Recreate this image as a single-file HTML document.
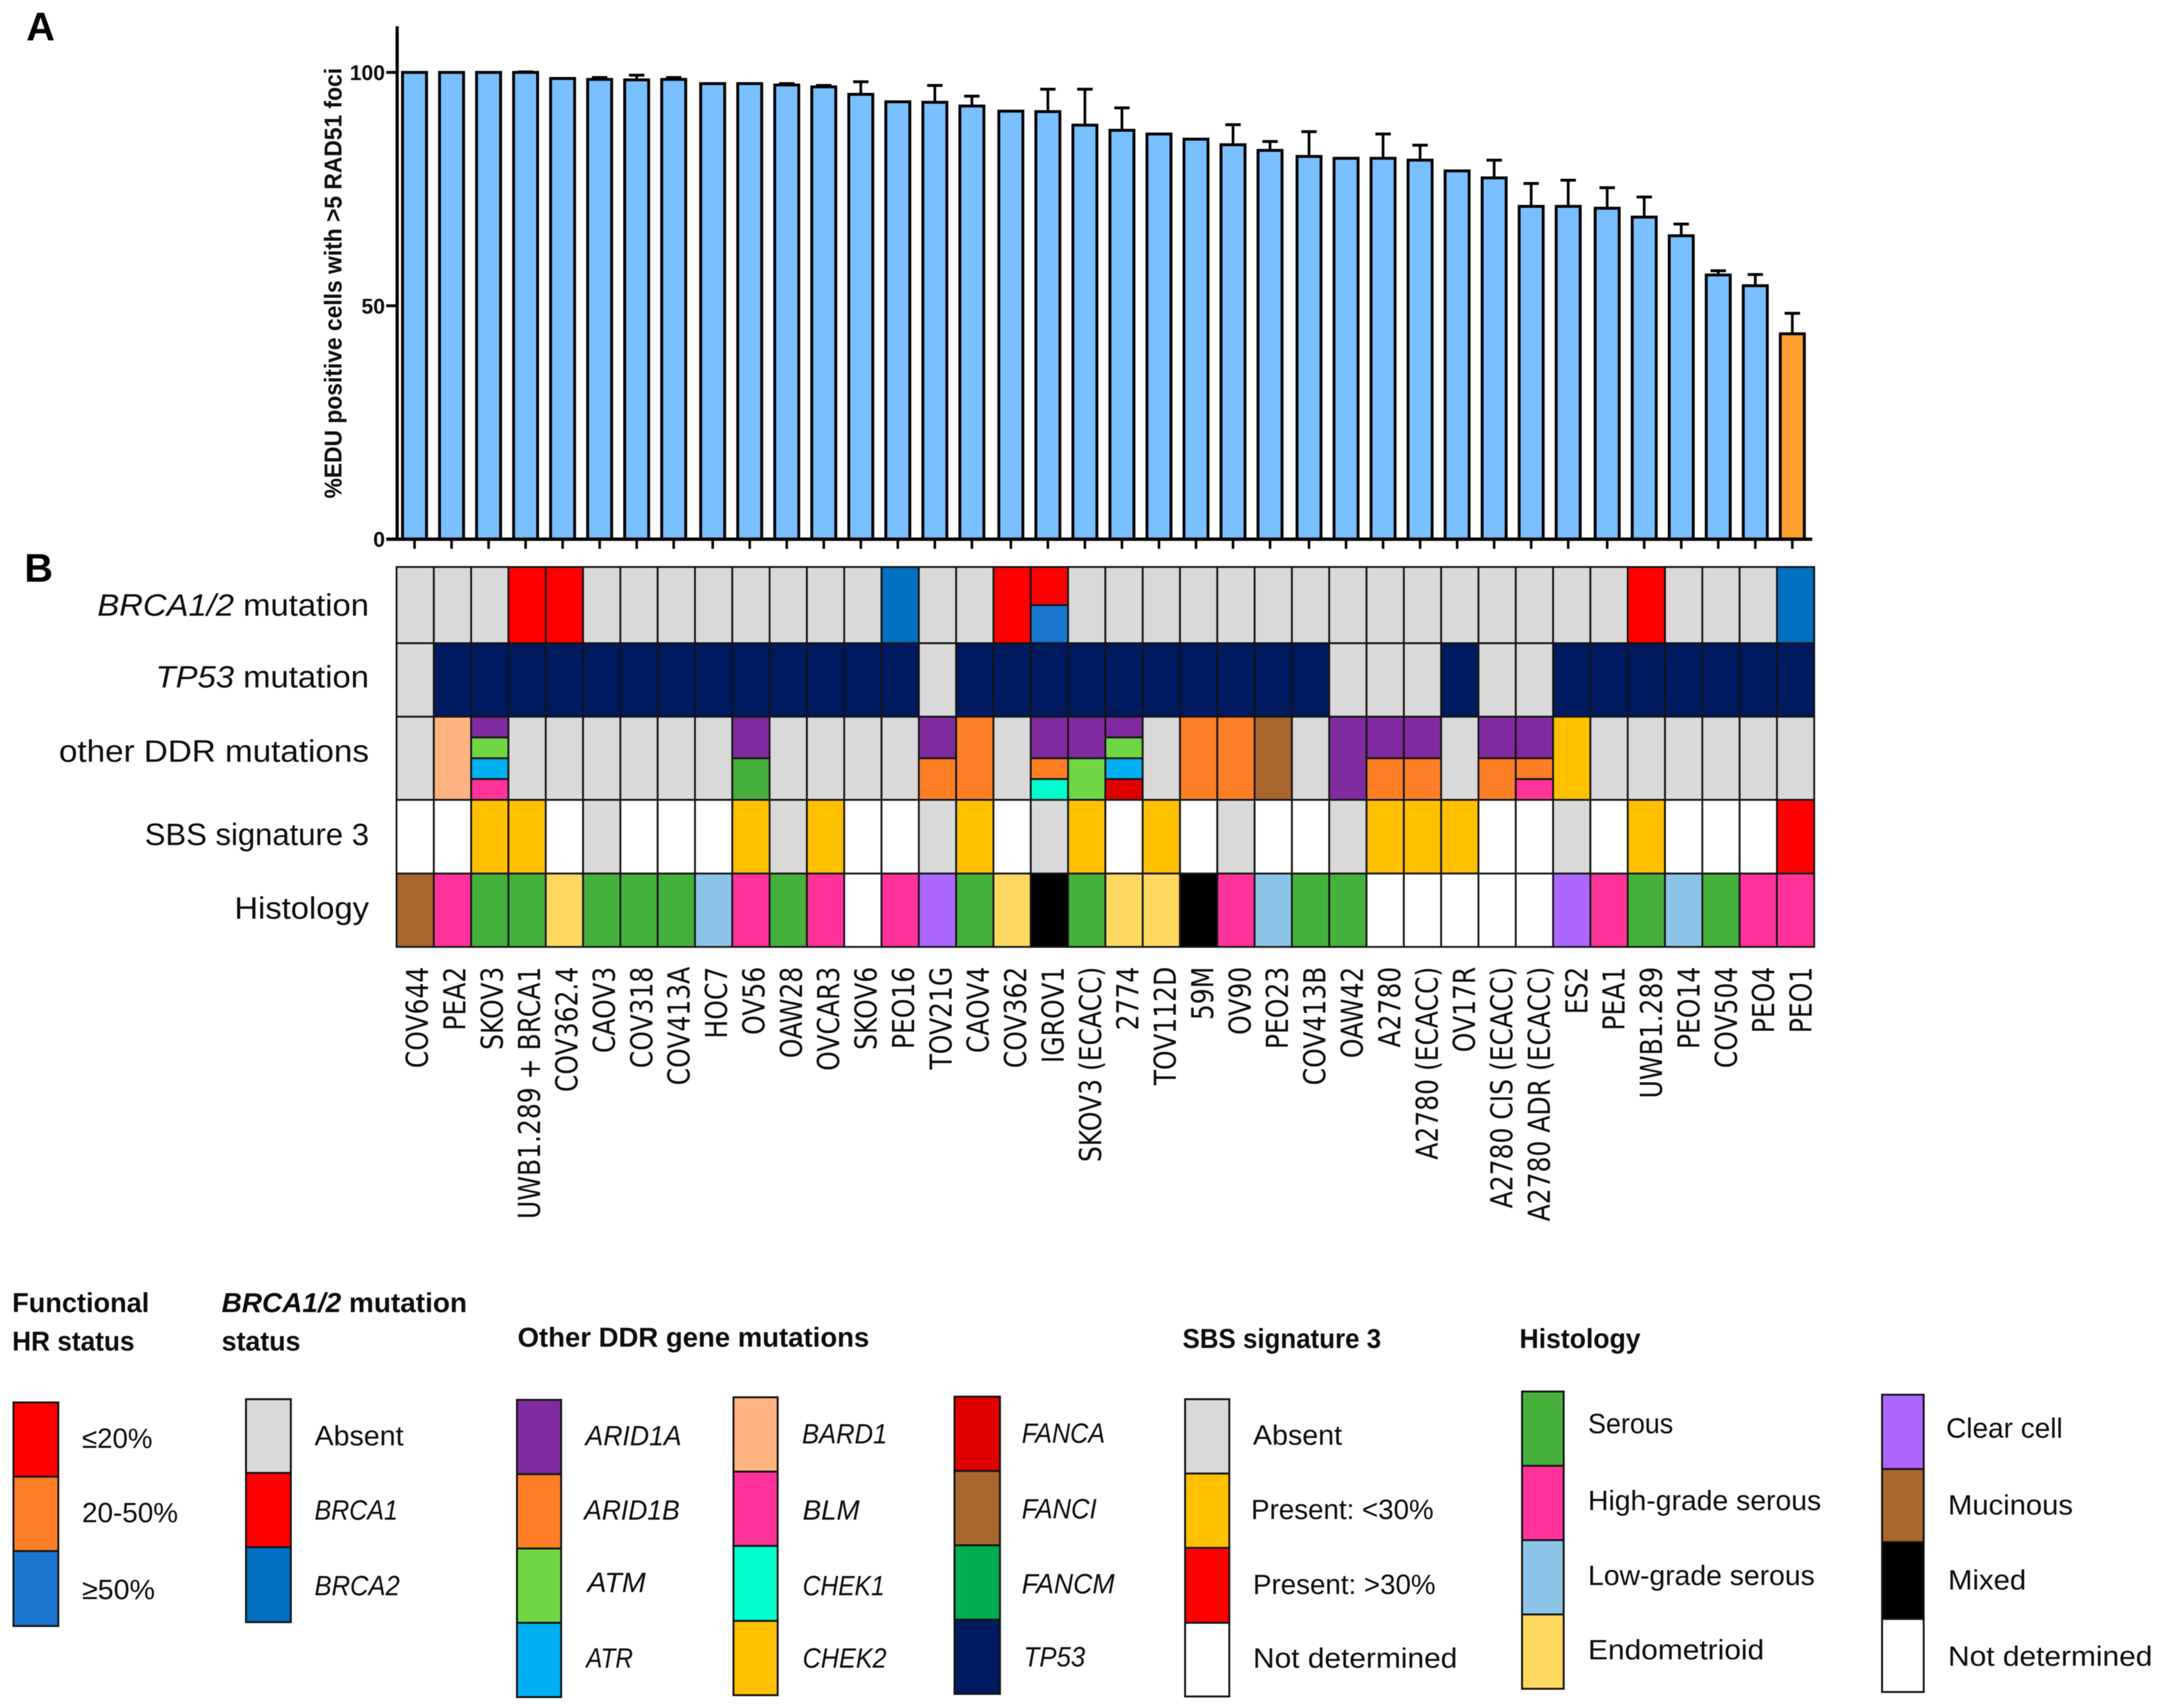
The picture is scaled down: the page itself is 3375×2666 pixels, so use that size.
<!DOCTYPE html>
<html lang="en">
<head>
<meta charset="utf-8">
<title>Functional HR status across ovarian cancer cell lines</title>
<style>
html,body{margin:0;padding:0;background:#fff;}
svg{display:block;filter:blur(.6px);}
text{fill:#0d0d0d;font-family:"Liberation Sans",sans-serif;}
.lt{font-size:44px;}
.li{font-size:44px;font-style:italic;}
.lh{font-size:43px;font-weight:bold;}
.rl{font-size:48px;}
.pl{font-size:62px;font-weight:bold;fill:#000;}
.sw{stroke:#151515;stroke-width:3;}
</style>
</head>
<body>
<svg id="figure" xmlns="http://www.w3.org/2000/svg" width="3375" height="2666" viewBox="0 0 3375 2666">
<rect width="3375" height="2666" fill="#fff"/>

<text class="pl" x="41" y="63">A</text>
<text class="pl" x="38" y="908">B</text>

<g id="bar-chart"></g>
<text transform="translate(533,778) rotate(-90)" font-size="38" font-weight="bold" textLength="672" lengthAdjust="spacingAndGlyphs">%EDU positive cells with &gt;5 RAD51 foci</text>

<g id="heatmap"></g>
<text class="rl" x="152" y="961" textLength="424" lengthAdjust="spacingAndGlyphs"><tspan font-style="italic">BRCA1/2</tspan> mutation</text>
<text class="rl" x="243" y="1073" textLength="333" lengthAdjust="spacingAndGlyphs"><tspan font-style="italic">TP53</tspan> mutation</text>
<text class="rl" x="92" y="1189" textLength="484" lengthAdjust="spacingAndGlyphs">other DDR mutations</text>
<text class="rl" x="226" y="1319" textLength="350" lengthAdjust="spacingAndGlyphs">SBS signature 3</text>
<text class="rl" x="366" y="1434" textLength="210" lengthAdjust="spacingAndGlyphs">Histology</text>
<g id="x-labels"></g>

<g>
<text class="lh" x="19" y="2048" textLength="214" lengthAdjust="spacingAndGlyphs">Functional</text>
<text class="lh" x="19" y="2108" textLength="191" lengthAdjust="spacingAndGlyphs">HR status</text>
<rect class="sw" x="21" y="2189" width="70" height="116" fill="#ff0000"/>
<rect class="sw" x="21" y="2305" width="70" height="116" fill="#ff7f27"/>
<rect class="sw" x="21" y="2421" width="70" height="117" fill="#1a75cf"/>
<text class="lt" x="128" y="2260" textLength="110" lengthAdjust="spacingAndGlyphs">≤20%</text>
<text class="lt" x="128" y="2376" textLength="150" lengthAdjust="spacingAndGlyphs">20-50%</text>
<text class="lt" x="128" y="2496" textLength="114" lengthAdjust="spacingAndGlyphs">≥50%</text>
</g>

<g>
<text class="lh" x="346" y="2048" textLength="383" lengthAdjust="spacingAndGlyphs"><tspan font-style="italic">BRCA1/2</tspan> mutation</text>
<text class="lh" x="346" y="2108" textLength="123" lengthAdjust="spacingAndGlyphs">status</text>
<rect class="sw" x="384" y="2184" width="70" height="115" fill="#d9d9d9"/>
<rect class="sw" x="384" y="2299" width="70" height="116" fill="#ff0000"/>
<rect class="sw" x="384" y="2415" width="70" height="117" fill="#0070c0"/>
<text class="lt" x="491" y="2256" textLength="139" lengthAdjust="spacingAndGlyphs">Absent</text>
<text class="li" x="491" y="2372" textLength="130" lengthAdjust="spacingAndGlyphs">BRCA1</text>
<text class="li" x="491" y="2490" textLength="133" lengthAdjust="spacingAndGlyphs">BRCA2</text>
</g>

<g>
<text class="lh" x="808" y="2102" textLength="549" lengthAdjust="spacingAndGlyphs">Other DDR gene mutations</text>
<rect class="sw" x="807" y="2185" width="69" height="116" fill="#7f2b9f"/>
<rect class="sw" x="807" y="2301" width="69" height="116" fill="#ff7f27"/>
<rect class="sw" x="807" y="2417" width="69" height="116" fill="#70d644"/>
<rect class="sw" x="807" y="2533" width="69" height="116" fill="#00b0f0"/>
<text class="li" x="914" y="2256" textLength="150" lengthAdjust="spacingAndGlyphs">ARID1A</text>
<text class="li" x="912" y="2372" textLength="149" lengthAdjust="spacingAndGlyphs">ARID1B</text>
<text class="li" x="917" y="2485" textLength="91" lengthAdjust="spacingAndGlyphs">ATM</text>
<text class="li" x="915" y="2603" textLength="73" lengthAdjust="spacingAndGlyphs">ATR</text>
<rect class="sw" x="1145" y="2181" width="69" height="116" fill="#ffb380"/>
<rect class="sw" x="1145" y="2297" width="69" height="116" fill="#ff3399"/>
<rect class="sw" x="1145" y="2413" width="69" height="117" fill="#00ffcc"/>
<rect class="sw" x="1145" y="2530" width="69" height="116" fill="#ffc000"/>
<text class="li" x="1252" y="2253" textLength="133" lengthAdjust="spacingAndGlyphs">BARD1</text>
<text class="li" x="1253" y="2372" textLength="89" lengthAdjust="spacingAndGlyphs">BLM</text>
<text class="li" x="1253" y="2490" textLength="128" lengthAdjust="spacingAndGlyphs">CHEK1</text>
<text class="li" x="1253" y="2603" textLength="131" lengthAdjust="spacingAndGlyphs">CHEK2</text>
<rect class="sw" x="1490" y="2180" width="71" height="116" fill="#e00000"/>
<rect class="sw" x="1490" y="2296" width="71" height="116" fill="#a9662e"/>
<rect class="sw" x="1490" y="2412" width="71" height="116" fill="#00b050"/>
<rect class="sw" x="1490" y="2528" width="71" height="116" fill="#001a5f"/>
<text class="li" x="1595" y="2252" textLength="130" lengthAdjust="spacingAndGlyphs">FANCA</text>
<text class="li" x="1595" y="2370" textLength="117" lengthAdjust="spacingAndGlyphs">FANCI</text>
<text class="li" x="1595" y="2487" textLength="145" lengthAdjust="spacingAndGlyphs">FANCM</text>
<text class="li" x="1598" y="2601" textLength="96" lengthAdjust="spacingAndGlyphs">TP53</text>
</g>

<g>
<text class="lh" x="1846" y="2104" textLength="310" lengthAdjust="spacingAndGlyphs">SBS signature 3</text>
<rect class="sw" x="1850" y="2184" width="69" height="116" fill="#d9d9d9"/>
<rect class="sw" x="1850" y="2300" width="69" height="116" fill="#ffc000"/>
<rect class="sw" x="1850" y="2416" width="69" height="117" fill="#ff0000"/>
<rect class="sw" x="1850" y="2533" width="69" height="115" fill="#ffffff"/>
<text class="lt" x="1956" y="2255" textLength="139" lengthAdjust="spacingAndGlyphs">Absent</text>
<text class="lt" x="1953" y="2371" textLength="285" lengthAdjust="spacingAndGlyphs">Present: &lt;30%</text>
<text class="lt" x="1956" y="2488" textLength="285" lengthAdjust="spacingAndGlyphs">Present: &gt;30%</text>
<text class="lt" x="1956" y="2603" textLength="319" lengthAdjust="spacingAndGlyphs">Not determined</text>
</g>

<g>
<text class="lh" x="2372" y="2104" textLength="189" lengthAdjust="spacingAndGlyphs">Histology</text>
<rect class="sw" x="2376" y="2172" width="65" height="116" fill="#46b03c"/>
<rect class="sw" x="2376" y="2288" width="65" height="116" fill="#ff3399"/>
<rect class="sw" x="2376" y="2404" width="65" height="116" fill="#8cc4e8"/>
<rect class="sw" x="2376" y="2520" width="65" height="116" fill="#ffd95f"/>
<text class="lt" x="2479" y="2237" textLength="133" lengthAdjust="spacingAndGlyphs">Serous</text>
<text class="lt" x="2479" y="2357" textLength="364" lengthAdjust="spacingAndGlyphs">High-grade serous</text>
<text class="lt" x="2479" y="2474" textLength="354" lengthAdjust="spacingAndGlyphs">Low-grade serous</text>
<text class="lt" x="2479" y="2590" textLength="275" lengthAdjust="spacingAndGlyphs">Endometrioid</text>
<rect class="sw" x="2938" y="2177" width="65" height="116" fill="#ad66ff"/>
<rect class="sw" x="2938" y="2293" width="65" height="114" fill="#a9662e"/>
<rect class="sw" x="2938" y="2407" width="65" height="120" fill="#000000"/>
<rect class="sw" x="2938" y="2527" width="65" height="114" fill="#ffffff"/>
<text class="lt" x="3038" y="2244" textLength="182" lengthAdjust="spacingAndGlyphs">Clear cell</text>
<text class="lt" x="3041" y="2364" textLength="195" lengthAdjust="spacingAndGlyphs">Mucinous</text>
<text class="lt" x="3041" y="2481" textLength="122" lengthAdjust="spacingAndGlyphs">Mixed</text>
<text class="lt" x="3041" y="2600" textLength="319" lengthAdjust="spacingAndGlyphs">Not determined</text>
</g>
</svg>

<script>
const cellLines = ['COV644','PEA2','SKOV3','UWB1.289 + BRCA1','COV362.4','CAOV3','COV318','COV413A','HOC7','OV56','OAW28','OVCAR3','SKOV6','PEO16','TOV21G','CAOV4','COV362','IGROV1','SKOV3 (ECACC)','2774','TOV112D','59M','OV90','PEO23','COV413B','OAW42','A2780','A2780 (ECACC)','OV17R','A2780 CIS (ECACC)','A2780 ADR (ECACC)','ES2','PEA1','UWB1.289','PEO14','COV504','PEO4','PEO1'];
const rad51Means = [100,100,100,100,98.7,98.5,98.4,98.5,97.6,97.6,97.3,96.9,95.3,93.7,93.6,92.8,91.7,91.6,88.7,87.6,86.8,85.7,84.5,83.3,82.0,81.6,81.6,81.2,78.9,77.4,71.3,71.3,70.9,69.0,65.0,56.6,54.3,44.0];
const rad51Errors = [0,0,0,0.1,0,0.4,1.0,0.4,0,0,0.3,0.3,2.7,0,3.6,2.1,0,4.8,7.7,4.8,0,0,4.3,1.9,5.3,0,5.2,3.2,0,3.8,4.9,5.6,4.4,4.3,2.5,0.9,2.4,4.4];
const yTickValues = [0,50,100];
const brcaRow = ['none','none','none','brca1','brca1','none','none','none','none','none','none','none','none','brca2','none','none','brca1','brca1+func50','none','none','none','none','none','none','none','none','none','none','none','none','none','none','none','brca1','none','none','none','brca2'];
const tp53Row = ['none','tp53','tp53','tp53','tp53','tp53','tp53','tp53','tp53','tp53','tp53','tp53','tp53','tp53','none','tp53','tp53','tp53','tp53','tp53','tp53','tp53','tp53','tp53','tp53','none','none','none','tp53','none','none','tp53','tp53','tp53','tp53','tp53','tp53','tp53'];
const ddrRow = ['none','bard1','arid1a+atm+atr+blm','none','none','none','none','none','none','arid1a+serous','none','none','none','none','arid1a+arid1b','arid1b','none','arid1a+arid1b+chek1','arid1a+atm','arid1a+atm+atr+fanca','none','arid1b','arid1b','fanci','none','arid1a','arid1a+arid1b','arid1a+arid1b','none','arid1a+arid1b','arid1a+arid1b+blm','chek2','none','none','none','none','none','none'];
const sbsRow = ['nd','nd','low','low','nd','none','nd','nd','nd','low','none','low','nd','nd','none','low','nd','none','low','nd','low','nd','none','nd','nd','none','low','low','low','nd','nd','none','nd','low','nd','nd','nd','brca1'];
const histologyRow = ['fanci','blm','serous','serous','endo','serous','serous','serous','lowgrade','blm','serous','blm','nd','blm','clear','serous','endo','mixed','serous','endo','endo','mixed','blm','lowgrade','serous','serous','nd','nd','nd','nd','nd','clear','blm','serous','lowgrade','serous','blm','blm'];
const categoryColors = {none:'#d9d9d9',nd:'#ffffff',brca1:'#ff0000',brca2:'#0070c0',func50:'#1a75cf',tp53:'#001a5f',arid1a:'#7f2b9f',arid1b:'#ff7f27',atm:'#70d644',atr:'#00b0f0',blm:'#ff3399',bard1:'#ffb380',chek1:'#00ffcc',chek2:'#ffc000',low:'#ffc000',fanca:'#e00000',fanci:'#a9662e',serous:'#46b03c',endo:'#ffd95f',lowgrade:'#8cc4e8',clear:'#ad66ff',mixed:'#000000'};

const NS = 'http://www.w3.org/2000/svg';
function make(parent, tag, attrs) {
  const el = document.createElementNS(NS, tag);
  for (const k in attrs) el.setAttribute(k, attrs[k]);
  parent.appendChild(el);
  return el;
}

/* bar chart axes */
const yScale = v => 841.6 - v * 7.286;
const xScale = i => 647.1 + 57.8 * i + 3.05 * Math.floor(i / 8);
const barG = document.getElementById('bar-chart');
rad51Means.forEach((m, i) => {
  const cx = xScale(i);
  const lastBar = i === rad51Means.length - 1;
  if (rad51Errors[i] > 0) {
    const whisker = make(barG, 'line', {x1: cx, x2: cx, y1: yScale(m), y2: yScale(m + rad51Errors[i]), stroke: '#000', 'stroke-width': 4.2});
    
    
    const cap = make(barG, 'line', {x1: cx - 12, x2: cx + 12, y1: yScale(m + rad51Errors[i]), y2: yScale(m + rad51Errors[i]), stroke: '#000', 'stroke-width': 4.5});
    
    
  }
  const bar = make(barG, 'rect', {x: cx - 18.75, y: yScale(m), width: 37.5, height: yScale(0) - yScale(m), fill: lastBar ? '#ff9f30' : '#7abfff', stroke: '#000', 'stroke-width': 4.5});
  
  
  const tick = make(barG, 'line', {x1: cx, x2: cx, y1: yScale(0), y2: yScale(0) + 15, stroke: '#000', 'stroke-width': 4});
  
  
});
const yAxis = make(barG, 'line', {x1: 620, x2: 620, y1: 41, y2: yScale(0) + 2, stroke: '#000', 'stroke-width': 5});


const xAxis = make(barG, 'line', {x1: 603, x2: 2829, y1: yScale(0), y2: yScale(0), stroke: '#000', 'stroke-width': 5.2});


yTickValues.forEach(v => {
  const t = make(barG, 'line', {x1: 603, x2: 620, y1: yScale(v), y2: yScale(v), stroke: '#000', 'stroke-width': 4.5});
  
  
  const lab = make(barG, 'text', {x: 601, y: yScale(v) + 12, 'text-anchor': 'end', 'font-size': 33, 'font-weight': 'bold'});
  lab.textContent = String(v);
  
  
});

/* heatmap */
const colX = i => 619 + 58.24 * i;
const rowEdges = [885, 1004, 1118.7, 1248.5, 1363.5, 1478];
const heatG = document.getElementById('heatmap');
[brcaRow, tp53Row, ddrRow, sbsRow, histologyRow].forEach((row, r) => {
  const top = rowEdges[r], h = rowEdges[r + 1] - top;
  row.forEach((val, c) => {
    const parts = val.split('+');
    const unit = parts.length === 1 ? 1 : parts.length === 2 ? 0.5 : 0.25;
    let y = top;
    parts.forEach((p, k) => {
      const frac = (parts.length === 3 && k === 0) ? 0.5 : unit;
      const cell = make(heatG, 'rect', {x: colX(c), y: y, width: 58.24, height: h * frac, fill: categoryColors[p], stroke: '#141414', 'stroke-width': 2.8});
      
      
      y += h * frac;
    });
  });
});

/* cell-line labels */
const labG = document.getElementById('x-labels');
const labelBaseline = i => 668 + 58.38 * i;
cellLines.forEach((name, i) => {
  const t = make(labG, 'text', {transform: 'translate(' + labelBaseline(i) + ',1509) rotate(-90) scale(.83,1)', 'text-anchor': 'end', 'font-size': 47});
  t.style.fontFamily = '"DejaVu Sans",sans-serif';
  t.textContent = name;
  
  
});
</script>
</body>
</html>
